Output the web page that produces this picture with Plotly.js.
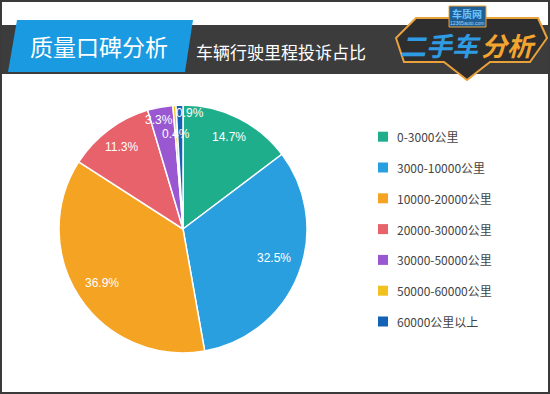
<!DOCTYPE html>
<html>
<head>
<meta charset="utf-8">
<script src="https://cdn.plot.ly/plotly-3.0.1.min.js"></script>
<style>
html,body{margin:0;padding:0;background:#fff;}
#chart{width:550px;height:394px;}
</style>
</head>
<body>
<div id="chart"></div>
<script>
// ---- data ----
const categories = ['0-3000公里','3000-10000公里','10000-20000公里','20000-30000公里','30000-50000公里','50000-60000公里','60000公里以上'];
const values = [14.7, 32.5, 36.9, 11.3, 3.3, 0.4, 0.9];
const percentLabels = ['14.7%','32.5%','36.9%','11.3%','3.3%','0.4%','0.9%'];
const colors = ['#1fae8c','#2a9fdf','#f4a322','#e8626b','#9a57d2','#f1c21d','#1462b5'];
const headerTitle = '质量口碑分析';
const subTitle = '车辆行驶里程投诉占比';

// ---- layout constants ----
const W = 550, H = 394;
const CX = 183, CY = 229, R = 124;
const labelRadius = [0.83, 0.77, 0.78, 0.83, 0.90, 0.77, 0.94];
const labelAngleShift = [0, -4, 0, 0, -2, 0, 5];
const px = x => x / W;
const py = y => 1 - y / H;

const total = values.reduce((a, b) => a + b, 0);
const annotations = [];
const shapes = [];
function note(x, y, text, font, extra) {
  annotations.push(Object.assign({xref:'paper', yref:'paper', x:px(x), y:py(y), text:text, showarrow:false,
    xanchor:'center', yanchor:'middle', font:font}, extra || {}));
}

// frame
shapes.push({type:'rect', xref:'paper', yref:'paper', x0:px(1), x1:px(549), y0:py(1), y1:py(393),
  line:{color:'#3a3a3a', width:2}, fillcolor:'rgba(0,0,0,0)'});
// dark band
shapes.push({type:'rect', xref:'paper', yref:'paper', x0:px(2), x1:px(548), y0:py(25), y1:py(74),
  line:{width:0}, fillcolor:'#3c3c3c'});
// blue parallelogram
shapes.push({type:'path', xref:'paper', yref:'paper',
  path:`M ${px(17)} ${py(20)} L ${px(193)} ${py(20)} L ${px(185)} ${py(72)} L ${px(8)} ${py(72)} Z`,
  line:{width:0}, fillcolor:'#1a9ae0'});
// logo shield
const shield = [[416,18],[538,18],[547,38],[530,62],[490,62],[467,80],[444,62],[404,62],[396,38]];
shapes.push({type:'path', xref:'paper', yref:'paper',
  path:'M ' + shield.map(p => px(p[0]) + ' ' + py(p[1])).join(' L ') + ' Z',
  line:{color:'#e9a23b', width:2}, fillcolor:'#2e2e2e'});
// logo bubble
shapes.push({type:'rect', xref:'paper', yref:'paper', x0:px(449), x1:px(486), y0:py(6), y1:py(27),
  line:{color:'#e9a23b', width:1}, fillcolor:'#1f5f94'});

note(99, 46, headerTitle, {family:'Noto Sans CJK SC', size:23, color:'#ffffff'});
note(281, 51, subTitle, {family:'Noto Sans CJK SC', size:17, color:'#ffffff'});
note(467, 13, '<b>车质网</b>', {family:'Noto Sans CJK SC', size:10, color:'#6cc4ff'});
note(467, 23, '12365auto.com', {family:'Liberation Sans', size:5, color:'#9fd6ff'});
note(441, 45, '<b><i>二手车</i></b>', {family:'Noto Sans CJK SC', size:26, color:'#2f9be2'});
note(508, 45, '<b><i>分析</i></b>', {family:'Noto Sans CJK SC', size:26, color:'#f3a52f'});

// percent labels, placed from the data angles
let cum = 0;
values.forEach((v, i) => {
  const mid = (cum + v / 2) / total * 360 + labelAngleShift[i];
  cum += v;
  const a = mid * Math.PI / 180;
  const r = R * labelRadius[i];
  note(CX + r * Math.sin(a), CY - r * Math.cos(a), percentLabels[i],
    {family:'Liberation Sans, Arial', size:12, color:'#ffffff'});
});

// legend
const LX = 378, LY0 = 136.7, LSTEP = 30.8, SQ = 10;
categories.forEach((c, i) => {
  const y = LY0 + i * LSTEP;
  shapes.push({type:'rect', xref:'paper', yref:'paper', x0:px(LX), x1:px(LX + SQ), y0:py(y - SQ/2), y1:py(y + SQ/2),
    line:{width:0}, fillcolor:colors[i]});
  note(LX + 17, y, c, {family:'Noto Sans CJK SC', size:12, color:'#444444'}, {xanchor:'left'});
});

const trace = {
  type:'pie',
  labels:categories,
  values:values,
  sort:false,
  direction:'clockwise',
  rotation:0,
  marker:{colors:colors, line:{color:'#ffffff', width:1.5}},
  textinfo:'none',
  hoverinfo:'none',
  showlegend:false,
  domain:{x:[px(CX - R), px(CX + R)], y:[py(CY + R), py(CY - R)]}
};

const layout = {
  width:W, height:H,
  margin:{l:0, r:0, t:0, b:0},
  paper_bgcolor:'#ffffff',
  showlegend:false,
  shapes:shapes,
  annotations:annotations
};

Plotly.newPlot('chart', [trace], layout, {displayModeBar:false, staticPlot:true});
</script>
</body>
</html>
